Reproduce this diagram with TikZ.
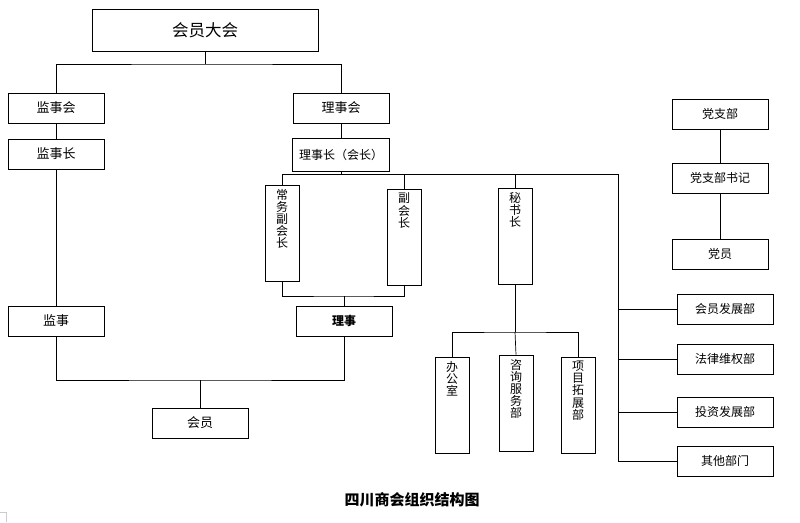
\documentclass[tikz,border=0pt]{standalone}
\usepackage{fontspec}
\setmainfont{Noto Sans CJK SC}
\usetikzlibrary{positioning}

\newcommand{\vlabel}[1]{\parbox[c][88pt][t]{14pt}{\centering\fontsize{12}{12.2}\selectfont #1}}

\begin{document}
\begin{tikzpicture}[x=1pt, y=-1pt, on grid, line width=0.7pt,
    box/.style={draw, line width=0.8pt, minimum width=96pt, minimum height=30pt, inner sep=0pt, font=\fontsize{13}{15}\selectfont},
    dept/.style={box, font=\fontsize{12}{14}\selectfont},
    vbox/.style={draw, line width=0.8pt, minimum width=34pt, minimum height=96pt, inner sep=0pt}]
   \useasboundingbox (0,0) rectangle (800,522);

   \node[box, minimum width=226pt, minimum height=42pt, font=\fontsize{16.5}{18}\selectfont] (hydh) at (205,30) {会员大会};
   \node[box] (jsh) at (56,108) {监事会};
   \node[box] (lsh) at (341,108) {理事会};
   \node[box] (jsz) [below=46pt of jsh] {监事长};
   \node[dept, minimum width=97pt, minimum height=33pt] (lsz) [below=47pt of lsh] {理事长（会长）};
   \node[vbox] (cwfhz) at (282,233) {\vlabel{常\\务\\副\\会\\长}};
   \node[vbox] (fhz) at (404,237) {\vlabel{副\\会\\长}};
   \node[vbox] (msz) at (515,236) {\vlabel{秘\\书\\长}};
   \node[box] (js) at (56,321) {监事};
   \node[dept, font=\fontsize{12}{14}\selectfont\bfseries] (ls) at (344,321) {理事};
   \node[box] (hy) at (200,423) {会员};
   \node[vbox] (bgs) at (452,405) {\vlabel{办\\公\\室}};
   \node[vbox] (zxfwb) at (516,403) {\vlabel{咨\\询\\服\\务\\部}};
   \node[vbox] (xmtzb) at (578,405) {\vlabel{项\\目\\拓\\展\\部}};

   % party branch
   \node[dept] (dzb) at (720,114) {党支部};
   \node[dept] (dzbsj) [below=64pt of dzb] {党支部书记};
   \node[dept] (dy) [below=76pt of dzbsj] {党员};

   % departments
   \node[dept] (hyfzb) at (725,309) {会员发展部};
   \node[dept] (flwqb) [below=50pt of hyfzb] {法律维权部};
   \node[dept] (tzfzb) [below=53pt of flwqb] {投资发展部};
   \node[dept] (qtbm) [below=49pt of tzfzb] {其他部门};

   \node[font=\fontsize{15}{17}\selectfont\bfseries] (title) at (412,500) {四川商会组织结构图};

   \coordinate (b1) at (205,64);
   \coordinate (rt) at (618,174);
   \coordinate (b3) at (344,296);
   \coordinate (b4) at (200,380);
   \coordinate (b5) at (515,332);

   \draw (hydh) -- (b1);
   \draw (jsh.north) |- (b1) -| (lsh.north);
   \draw (jsh) -- (jsz);
   \draw (jsz) -- (js);
   \draw (lsh) -- (lsz);
   \draw (lsz) -- (lsz |- rt);
   \draw (cwfhz.north) |- (rt) -- (rt |- qtbm) -- (qtbm.west);
   \draw (fhz) -- (fhz |- rt);
   \draw (msz) -- (msz |- rt);
   \draw (rt |- hyfzb) -- (hyfzb.west);
   \draw (rt |- flwqb) -- (flwqb.west);
   \draw (rt |- tzfzb) -- (tzfzb.west);
   \draw (cwfhz.south) |- (b3) -| (fhz.south);
   \draw (b3) -- (ls.north);
   \draw (js.south) |- (b4) -| (ls.south);
   \draw (b4) -- (hy.north);
   \draw (msz) -- (b5);
   \draw (bgs.north) |- (b5) -| (xmtzb.north);
   \draw (b5) -- (zxfwb.north);
   \draw (dzb) -- (dzbsj);
   \draw (dzbsj) -- (dy);

   \draw[gray!40, line width=0.6pt] (0,512) -- (6,512) -- (6,522);
\end{tikzpicture}
\end{document}
